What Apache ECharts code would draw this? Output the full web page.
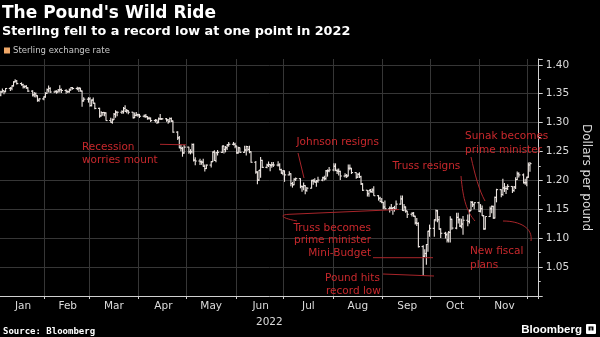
<!DOCTYPE html>
<html><head><meta charset="utf-8">
<script src="https://cdn.jsdelivr.net/npm/echarts@6/dist/echarts.min.js"></script>
<style>html,body{margin:0;padding:0;background:#000}#c{width:600px;height:337px}</style>
</head><body><div id="c"></div>
<script>
// Daily GBP/USD bars (weekdays 2022-01-04 .. 2022-12-02)
const opens = [
1.3475,1.3530,1.3550,1.3535,1.3590,1.3595,1.3635,1.3705,1.3720,1.3675,1.3655,1.3620,1.3625,1.3600,1.3545,1.3480,1.3500,1.3465,1.3385,1.3410,
1.3445,1.3505,1.3570,1.3590,1.3530,1.3540,1.3530,1.3565,1.3570,1.3555,1.3540,1.3535,1.3565,1.3605,1.3590,1.3585,1.3595,1.3545,1.3375,1.3405,
1.3410,1.3295,1.3390,1.3335,1.3245,1.3115,1.3175,1.3175,1.3165,1.3035,1.3005,1.3050,1.3145,1.3180,1.3180,1.3190,1.3245,1.3195,1.3205,1.3180,1.3085,1.3125,1.3135,
1.3135,1.3110,1.3115,1.3105,1.3075,1.3075,1.3035,1.3040,1.3005,1.3065,1.3065,1.3065,1.3045,1.3015,1.3070,1.3025,1.2835,1.2735,1.2565,1.2555,1.2475,
1.2575,1.2495,1.2495,1.2620,1.2350,1.2335,1.2325,1.2315,1.2245,1.2205,1.2265,1.2325,1.2490,1.2345,1.2480,1.2485,1.2595,1.2535,1.2565,1.2615,1.2625,1.2625,
1.2595,1.2475,1.2565,1.2485,1.2525,1.2585,1.2535,1.2495,1.2315,1.2145,1.2005,1.2175,1.2345,1.2225,1.2265,1.2275,1.2260,1.2270,1.2265,1.2265,1.2185,1.2125,
1.2165,1.2095,1.2115,1.1945,1.1925,1.2020,1.2030,1.1895,1.1890,1.1910,1.1830,1.1865,1.1995,1.1990,1.1970,1.1990,1.2005,1.2045,1.2030,1.2165,1.2165,
1.2180,1.2245,1.2170,1.2160,1.2155,1.2075,1.2085,1.2075,1.2210,1.2210,1.2135,1.2055,1.2105,1.2065,1.1940,1.1830,1.1770,1.1830,1.1805,1.1835,1.1735,1.1690,1.1635,
1.1620,1.1540,1.1510,1.1520,1.1515,1.1530,1.1500,1.1590,1.1680,1.1480,1.1540,1.1470,1.1415,1.1430,1.1380,1.1265,1.1255,1.0855,1.0685,1.0735,1.0890,1.1120,
1.1170,1.1320,1.1475,1.1320,1.1160,1.1085,1.1060,1.0970,1.1100,1.1325,1.1175,1.1360,1.1320,1.1210,1.1245,1.1310,1.1290,1.1475,1.1620,1.1580,1.1615,
1.1465,1.1510,1.1390,1.1160,1.1375,1.1510,1.1550,1.1350,1.1705,1.1840,1.1755,1.1870,1.1860,1.1860,1.1895,1.1825,1.1885,1.2015,1.2115,1.2095,1.1960,1.1960,
1.2055,1.2265
];
const highs = [
1.3550,1.3590,1.3560,1.3600,1.3615,1.3645,1.3715,1.3750,1.3735,1.3695,1.3670,1.3645,1.3650,1.3610,1.3560,1.3530,1.3520,1.3470,1.3420,1.3450,
1.3525,1.3590,1.3640,1.3610,1.3555,1.3560,1.3580,1.3645,1.3590,1.3575,1.3550,1.3590,1.3615,1.3615,1.3620,1.3615,1.3600,1.3555,1.3440,1.3440,
1.3440,1.3400,1.3435,1.3345,1.3255,1.3195,1.3185,1.3185,1.3180,1.3085,1.3070,1.3165,1.3215,1.3190,1.3215,1.3270,1.3300,1.3235,1.3215,1.3185,1.3175,1.3185,1.3155,
1.3150,1.3140,1.3150,1.3110,1.3100,1.3090,1.3060,1.3055,1.3090,1.3150,1.3080,1.3080,1.3060,1.3090,1.3090,1.3035,1.2850,1.2770,1.2615,1.2580,1.2615,
1.2580,1.2540,1.2640,1.2640,1.2400,1.2375,1.2345,1.2375,1.2275,1.2275,1.2330,1.2500,1.2520,1.2490,1.2525,1.2600,1.2600,1.2595,1.2625,1.2665,1.2665,1.2650,
1.2600,1.2580,1.2570,1.2600,1.2600,1.2595,1.2600,1.2505,1.2335,1.2160,1.2180,1.2405,1.2355,1.2290,1.2325,1.2285,1.2320,1.2320,1.2330,1.2295,1.2200,1.2180,
1.2170,1.2160,1.2125,1.1975,1.2035,1.2050,1.2035,1.1910,1.1965,1.1915,1.1885,1.2010,1.2025,1.2035,1.2005,1.2065,1.2065,1.2080,1.2180,1.2190,1.2230,
1.2295,1.2295,1.2200,1.2205,1.2165,1.2125,1.2110,1.2275,1.2275,1.2215,1.2140,1.2125,1.2140,1.2080,1.1950,1.1835,1.1835,1.1850,1.1865,1.1900,1.1745,1.1715,1.1695,
1.1625,1.1650,1.1550,1.1590,1.1540,1.1560,1.1650,1.1740,1.1740,1.1590,1.1550,1.1470,1.1450,1.1455,1.1390,1.1350,1.1275,1.0880,1.0810,1.0900,1.1130,1.1235,
1.1325,1.1495,1.1490,1.1385,1.1170,1.1110,1.1100,1.1125,1.1380,1.1335,1.1440,1.1440,1.1345,1.1335,1.1385,1.1410,1.1495,1.1645,1.1640,1.1615,1.1630,
1.1590,1.1565,1.1395,1.1375,1.1550,1.1565,1.1560,1.1720,1.1855,1.1845,1.2030,1.1955,1.1905,1.1935,1.1900,1.1905,1.2055,1.2155,1.2140,1.2120,1.2030,1.2065,
1.2310,1.2320
];
const lows = [
1.3455,1.3520,1.3490,1.3525,1.3545,1.3560,1.3625,1.3695,1.3660,1.3640,1.3590,1.3595,1.3585,1.3530,1.3450,1.3440,1.3435,1.3360,1.3360,1.3385,
1.3430,1.3495,1.3520,1.3510,1.3510,1.3500,1.3520,1.3520,1.3510,1.3500,1.3510,1.3515,1.3555,1.3570,1.3560,1.3530,1.3540,1.3275,1.3365,1.3345,
1.3275,1.3280,1.3330,1.3230,1.3085,1.3105,1.3120,1.3110,1.3030,1.3000,1.2980,1.3045,1.3085,1.3110,1.3150,1.3155,1.3185,1.3160,1.3145,1.3070,1.3080,1.3110,1.3100,
1.3080,1.3090,1.3080,1.3050,1.3050,1.3010,1.3000,1.2975,1.2990,1.3050,1.3045,1.3015,1.2980,1.3005,1.3010,1.2825,1.2700,1.2555,1.2505,1.2410,1.2460,
1.2460,1.2450,1.2465,1.2325,1.2260,1.2265,1.2270,1.2235,1.2155,1.2195,1.2225,1.2320,1.2335,1.2315,1.2430,1.2475,1.2465,1.2485,1.2525,1.2580,1.2605,1.2555,
1.2460,1.2465,1.2480,1.2480,1.2430,1.2510,1.2470,1.2305,1.2115,1.1935,1.1990,1.2045,1.2215,1.2210,1.2230,1.2160,1.2220,1.2230,1.2240,1.2175,1.2115,1.2090,
1.1975,1.2085,1.1900,1.1875,1.1915,1.1990,1.1865,1.1805,1.1830,1.1760,1.1805,1.1860,1.1925,1.1965,1.1890,1.1960,1.1985,1.2000,1.2010,1.2065,1.2140,
1.2160,1.2165,1.2110,1.2085,1.2005,1.2050,1.2040,1.2070,1.2175,1.2110,1.2030,1.2040,1.2040,1.1920,1.1815,1.1720,1.1715,1.1790,1.1780,1.1735,1.1650,1.1620,1.1605,
1.1500,1.1495,1.1445,1.1475,1.1405,1.1460,1.1495,1.1585,1.1475,1.1465,1.1440,1.1350,1.1375,1.1370,1.1235,1.1210,1.0840,1.0350,1.0680,1.0540,1.0765,1.1025,
1.1025,1.1290,1.1275,1.1145,1.1005,1.0995,1.0925,1.0925,1.0925,1.1145,1.1155,1.1255,1.1195,1.1170,1.1060,1.1205,1.1255,1.1475,1.1540,1.1500,1.1455,
1.1445,1.1385,1.1145,1.1150,1.1365,1.1430,1.1335,1.1340,1.1620,1.1710,1.1735,1.1800,1.1765,1.1835,1.1780,1.1805,1.1850,1.2005,1.2050,1.1945,1.1925,1.1900,
1.2045,1.2150
];
const closes = [
1.3530,1.3550,1.3535,1.3590,1.3595,1.3635,1.3705,1.3720,1.3675,1.3655,1.3620,1.3625,1.3600,1.3545,1.3480,1.3500,1.3465,1.3385,1.3410,1.3445,
1.3505,1.3570,1.3590,1.3530,1.3540,1.3530,1.3565,1.3570,1.3555,1.3540,1.3535,1.3565,1.3605,1.3590,1.3585,1.3595,1.3545,1.3375,1.3405,1.3410,
1.3295,1.3390,1.3335,1.3245,1.3115,1.3175,1.3175,1.3165,1.3035,1.3005,1.3050,1.3145,1.3180,1.3180,1.3190,1.3245,1.3195,1.3205,1.3180,1.3085,1.3125,1.3135,1.3135,
1.3110,1.3115,1.3105,1.3075,1.3075,1.3035,1.3040,1.3005,1.3065,1.3065,1.3065,1.3045,1.3015,1.3070,1.3025,1.2835,1.2735,1.2565,1.2555,1.2475,1.2575,
1.2495,1.2495,1.2620,1.2350,1.2335,1.2325,1.2315,1.2245,1.2205,1.2265,1.2325,1.2490,1.2345,1.2480,1.2485,1.2595,1.2535,1.2565,1.2615,1.2625,1.2625,1.2595,
1.2475,1.2565,1.2485,1.2525,1.2585,1.2535,1.2495,1.2315,1.2145,1.2005,1.2175,1.2345,1.2225,1.2265,1.2275,1.2260,1.2270,1.2265,1.2265,1.2185,1.2125,1.2165,
1.2095,1.2115,1.1945,1.1925,1.2020,1.2030,1.1895,1.1890,1.1910,1.1830,1.1865,1.1995,1.1990,1.1970,1.1990,1.2005,1.2045,1.2030,1.2165,1.2165,1.2180,
1.2245,1.2170,1.2160,1.2155,1.2075,1.2085,1.2075,1.2210,1.2210,1.2135,1.2055,1.2105,1.2065,1.1940,1.1830,1.1770,1.1830,1.1805,1.1835,1.1735,1.1690,1.1635,1.1620,
1.1540,1.1510,1.1520,1.1515,1.1530,1.1500,1.1590,1.1680,1.1480,1.1540,1.1470,1.1415,1.1430,1.1380,1.1265,1.1255,1.0855,1.0685,1.0735,1.0890,1.1120,1.1170,
1.1320,1.1475,1.1320,1.1160,1.1085,1.1060,1.0970,1.1100,1.1325,1.1175,1.1360,1.1320,1.1210,1.1245,1.1310,1.1290,1.1475,1.1620,1.1580,1.1615,1.1465,
1.1510,1.1390,1.1160,1.1375,1.1510,1.1550,1.1350,1.1705,1.1840,1.1755,1.1870,1.1860,1.1860,1.1895,1.1825,1.1885,1.2015,1.2115,1.2095,1.1960,1.1960,1.2055,
1.2265,1.2290
];
const monthLabels = ['Jan','Feb','Mar','Apr','May','Jun','Jul','Aug','Sep','Oct','Nov'];
const monthLabelDays = ['2022-01-18','2022-02-15','2022-03-16','2022-04-16','2022-05-16','2022-06-16','2022-07-16','2022-08-16','2022-09-16','2022-10-16','2022-11-16'];
const yearLabel = '2022';
const yTicks = {min: 1.00, max: 1.41, step: 0.05};

// calendar categories for the x axis and weekday trading dates
const fmt = d => d.toISOString().slice(0, 10);
const axisDays = [];
for (let t = Date.UTC(2022, 0, 4); t <= Date.UTC(2022, 11, 7); t += 86400000) axisDays.push(fmt(new Date(t)));
const tradeDays = axisDays.filter(s => { const w = new Date(s + 'T00:00:00Z').getUTCDay(); return w !== 0 && w !== 6 && s <= '2022-12-02'; });
if (tradeDays.length !== closes.length) console.warn('length mismatch', tradeDays.length, closes.length);
const seriesData = tradeDays.map((d, i) => [d, opens[i], highs[i], lows[i], closes[i]]);

const barColor = '#ece5e1';
const red = '#c8282c';
const redLine = '#a8252a';
const annFont = '10.5px "DejaVu Sans"';

function txt(text, x, y, align) {
  return {type: 'text', x: x, y: y, z: 10, style: {text: text, fill: red, font: annFont, textAlign: align || 'left', textVerticalAlign: 'middle'}};
}
function ln(x1, y1, x2, y2) {
  return {type: 'line', z: 9, shape: {x1, y1, x2, y2}, style: {stroke: redLine, lineWidth: 1}};
}
function bz(x1, y1, cpx1, cpy1, cpx2, cpy2, x2, y2) {
  return {type: 'bezierCurve', z: 9, shape: {x1, y1, cpx1, cpy1, cpx2, cpy2, x2, y2}, style: {stroke: redLine, lineWidth: 1, fill: null}};
}

const chart = echarts.init(document.getElementById('c'), null, {renderer: 'canvas'});
chart.setOption({
  animation: false,
  backgroundColor: '#000',
  title: [
    {text: "The Pound's Wild Ride", left: 2, top: 5, padding: 0,
     textStyle: {fontFamily: 'DejaVu Sans', fontWeight: 'bold', fontSize: 17, color: '#ffffff'}},
    {text: 'Sterling fell to a record low at one point in 2022', left: 2, top: 25, padding: 0,
     textStyle: {fontFamily: 'DejaVu Sans', fontWeight: 'bold', fontSize: 12.8, color: '#ffffff'}},
    {text: 'Source: Bloomberg', left: 3, top: 327, padding: 0,
     textStyle: {fontFamily: 'DejaVu Sans Mono', fontWeight: 'bold', fontSize: 9, color: '#ffffff'}},
    {text: 'Bloomberg', right: 18, top: 324, padding: 0,
     textStyle: {fontFamily: 'Liberation Sans', fontWeight: 'bold', fontSize: 11.5, color: '#ffffff'}}
  ],
  legend: {
    left: 4, top: 46, padding: 0, itemWidth: 6, itemHeight: 6, icon: 'rect',
    data: [{name: 'Sterling exchange rate', itemStyle: {color: '#f0a868'}}],
    textStyle: {color: '#c8c8c8', fontFamily: 'DejaVu Sans', fontSize: 8.5, padding: [0, 0, 0, -2]}
  },
  grid: {left: 0, right: 47, top: 59, bottom: 41, containLabel: false},
  xAxis: {
    type: 'category', data: axisDays, boundaryGap: true,
    axisLine: {show: true, lineStyle: {color: '#d0d0d0', width: 1}},
    axisTick: {show: true, length: 3, interval: (i, v) => v.endsWith('-01'), lineStyle: {color: '#d0d0d0'}},
    axisLabel: {
      interval: (i, v) => monthLabelDays.indexOf(v) >= 0,
      formatter: v => monthLabels[monthLabelDays.indexOf(v)],
      color: '#dcdcdc', fontFamily: 'DejaVu Sans', fontSize: 10.5, margin: 5
    },
    splitLine: {show: true, interval: (i, v) => v.endsWith('-01'), lineStyle: {color: '#363636', width: 1}},
    name: yearLabel, nameLocation: 'middle', nameGap: 12,
    nameTextStyle: {color: '#dcdcdc', fontFamily: 'DejaVu Sans', fontSize: 10.5}
  },
  yAxis: {
    type: 'value', position: 'right', min: yTicks.min, max: yTicks.max, interval: yTicks.step,
    axisLine: {show: true, lineStyle: {color: '#d0d0d0', width: 1}},
    axisTick: {show: true, length: 4, lineStyle: {color: '#d0d0d0'}},
    minorTick: {show: true, splitNumber: 2, length: 2, lineStyle: {color: '#d0d0d0'}},
    axisLabel: {showMinLabel: false, showMaxLabel: false, formatter: v => v.toFixed(2), margin: 7,
      color: '#dcdcdc', fontFamily: 'DejaVu Sans', fontSize: 10.5},
    splitLine: {show: true, showMinLine: false, showMaxLine: false, lineStyle: {color: '#363636', width: 1}},
    name: 'Dollars per pound', nameLocation: 'middle', nameRotate: -90, nameGap: 31,
    nameTextStyle: {color: '#dcdcdc', fontFamily: 'DejaVu Sans', fontSize: 12}
  },
  series: [{
    name: 'Sterling exchange rate', type: 'custom', data: seriesData,
    encode: {x: 0, y: [1, 2, 3, 4]},
    itemStyle: {color: '#f0a868'},
    renderItem: function (params, api) {
      const xi = api.value(0);
      const pO = api.coord([xi, api.value(1)]);
      const pH = api.coord([xi, api.value(2)]);
      const pL = api.coord([xi, api.value(3)]);
      const pC = api.coord([xi, api.value(4)]);
      const cx = pH[0];
      const st = {stroke: barColor, lineWidth: 1.1};
      return {type: 'group', children: [
        {type: 'line', shape: {x1: cx, y1: pH[1], x2: cx, y2: pL[1]}, style: st},
        {type: 'line', shape: {x1: cx - 1.6, y1: pO[1], x2: cx, y2: pO[1]}, style: st},
        {type: 'line', shape: {x1: cx, y1: pC[1], x2: cx + 1.6, y2: pC[1]}, style: st}
      ]};
    }
  }],
  graphic: [
    txt('Recession', 82, 147.5), txt('worries mount', 82, 160),
    ln(160, 144.3, 186, 144.8),
    txt('Johnson resigns', 296.5, 142),
    ln(298, 153, 304, 178),
    txt('Truss resigns', 392.5, 166.5),
    bz(461, 176, 463, 200, 467, 212, 475, 221),
    txt('Sunak becomes', 465, 136), txt('prime minister', 465, 150),
    bz(471, 157, 475, 175, 479, 190, 485, 201),
    txt('New fiscal', 470, 251.5), txt('plans', 470, 265.5),
    bz(503, 221, 520, 221, 533, 228, 531, 241),
    txt('Truss becomes', 371, 228.3, 'right'), txt('prime minister', 371, 240, 'right'),
    ln(399, 209.5, 289, 214.3),
    bz(289, 214.3, 279, 214.8, 281, 218, 297, 221),
    txt('Mini-Budget', 371, 253.3, 'right'),
    ln(373, 257.7, 433, 257.7),
    txt('Pound hits', 325, 278), txt('record low', 326, 291.5),
    ln(383, 274, 434, 276),
    {type: 'rect', z: 10, shape: {x: 586, y: 324, width: 10, height: 10, r: 1}, style: {fill: '#ffffff'}},
    {type: 'rect', z: 11, shape: {x: 588.5, y: 326.5, width: 5, height: 4}, style: {fill: '#000000'}},
    {type: 'rect', z: 12, shape: {x: 590.5, y: 327.5, width: 1, height: 5}, style: {fill: '#ffffff'}}
  ]
});
</script>
</body></html>
